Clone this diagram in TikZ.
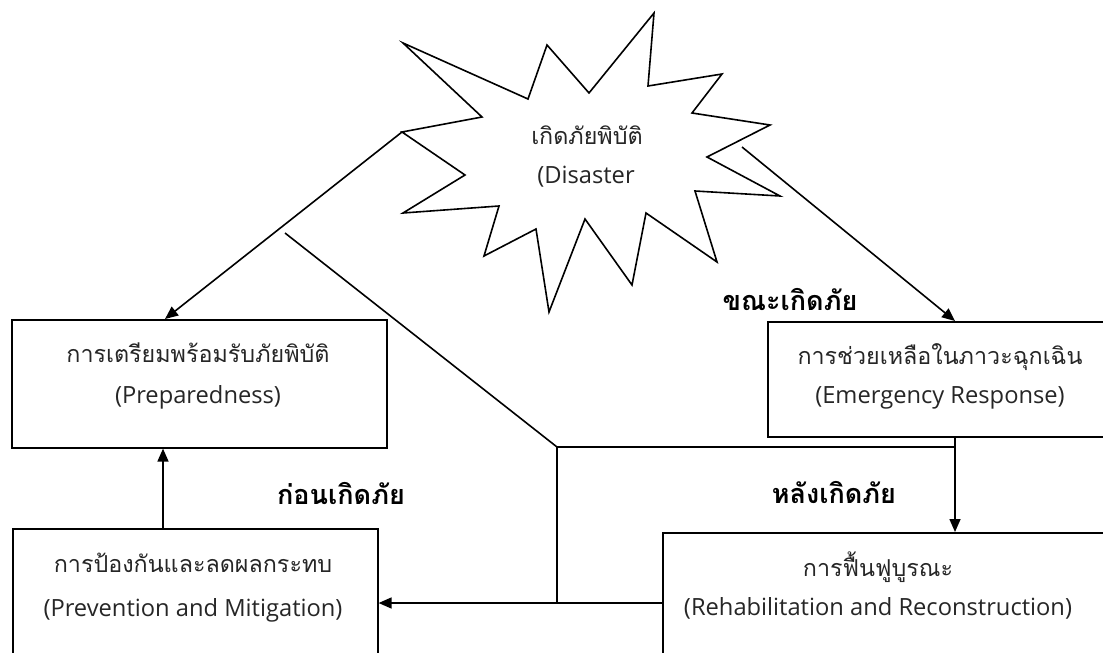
\documentclass[tikz,border=0pt]{standalone}
\usepackage{fontspec}
\usetikzlibrary{arrows.meta}
\newfontfamily\thai[Script=Thai]{Loma}
\newfontfamily\eng{Open Sans}
\tikzset{
  x=1pt, y=-1pt,
  box/.style={draw, line width=1.6pt, rectangle, inner sep=0pt, anchor=north west},
  thaitxt/.style={font=\thai\fontsize{23.3}{27}\selectfont, text=black!85, inner sep=0pt},
  engtxt/.style={font=\eng\fontsize{23.7}{27}\selectfont, text=black!85, inner sep=0pt},
  phase/.style={font=\thai\bfseries\fontsize{27}{31}\selectfont, inner sep=0pt},
  conn/.style={line width=1.6pt},
  arr/.style={line width=1.6pt, -{Triangle[length=13pt,width=11pt]}},
}
\begin{document}
\begin{tikzpicture}
\useasboundingbox (0,0) rectangle (1103,653);
\clip (0,0) rectangle (1103,653);

% star
\draw[line width=1.6pt, fill=white]
  (403,43) -- (528,99) -- (547,45) -- (589,93) -- (654,13) -- (648,86)
  -- (722,74) -- (692,113) -- (770,125) -- (707,157) -- (780,196)
  -- (695,191) -- (717,262) -- (646,213) -- (632,285) -- (585,219)
  -- (549,312) -- (536,229) -- (484,256) -- (499,206) -- (403,213)
  -- (465,175) -- (402,132) -- (482,117) -- cycle;
\coordinate (starL) at (402,132);
\coordinate (starR) at (742,147);
\node[thaitxt] (starT) at (587,135) {เกิดภัยพิบัติ};
\node[engtxt] (starE) at (586,177) {(Disaster};

% boxes
\node[box, minimum width=375pt, minimum height=128pt] (prep) at (11,319) {};
\node[box, minimum width=365pt, minimum height=170pt] (prev) at (12,528) {};
\node[box, minimum width=370pt, minimum height=115pt] (emer) at (767,321) {};
\node[box, minimum width=470pt, minimum height=170pt] (reha) at (662,532) {};

\node[thaitxt] (prepT) at (198,353) {การเตรียมพร้อมรับภัยพิบัติ};
\node[engtxt]  (prepE) at (198,397) {(Preparedness)};
\node[thaitxt] (prevT) at (193,563) {การป้องกันและลดผลกระทบ};
\node[engtxt]  (prevE) at (193,610) {(Prevention and Mitigation)};
\node[thaitxt] (emerT) at (940,357) {การช่วยเหลือในภาวะฉุกเฉิน};
\node[engtxt]  (emerE) at (940,398) {(Emergency Response)};
\node[thaitxt] (rehaT) at (878,567) {การฟื้นฟูบูรณะ};
\node[engtxt]  (rehaE) at (878,608) {(Rehabilitation and Reconstruction)};

% phase labels
\node[phase] (during) at (790,299) {ขณะเกิดภัย};
\node[phase] (before) at (341,493) {ก่อนเกิดภัย};
\node[phase] (after)  at (834,492) {หลังเกิดภัย};

% helper coordinates
\coordinate (xL) at (165,0);
\coordinate (xV) at (163,0);
\coordinate (xR) at (955,0);
\coordinate (sepA) at (285,233);
\coordinate (sepB) at (557,447);
\coordinate (sepC) at (557,603);
\coordinate (yH) at (0,603);

% connectors
\draw[arr] (starL) -- (prep.north -| xL);
\draw[arr] (starR) -- (emer.north -| xR);
\draw[arr] (emer.south -| xR) -- (reha.north -| xR);
\draw[arr] (prev.north -| xV) -- (prep.south -| xV);
\draw[arr] (reha.west |- yH) -- (prev.east |- yH);
\draw[conn] (sepA) -- (sepB) -- (sepB -| xR);
\draw[conn] (sepB) -- (sepC);
\end{tikzpicture}
\end{document}
